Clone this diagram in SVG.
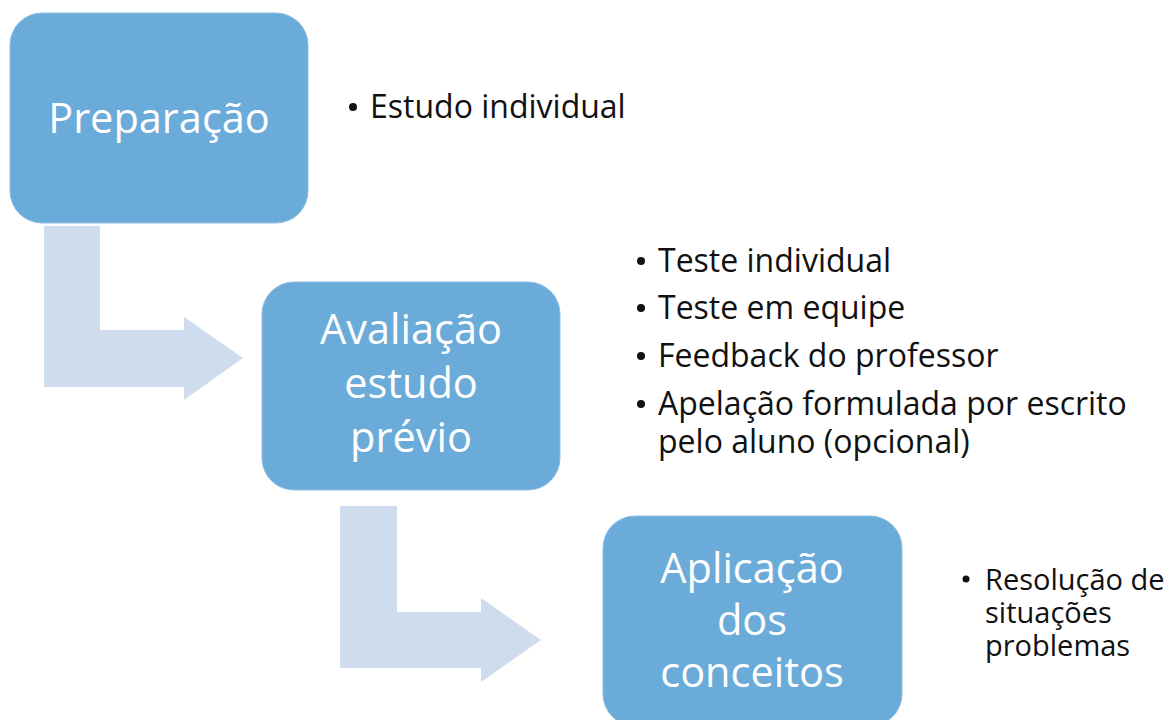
<svg xmlns="http://www.w3.org/2000/svg" width="1171" height="720" viewBox="0 0 1171 720">
<style>
.box{fill:#6aabd9;stroke:#8fc0e3;stroke-width:1}
.arr{fill:#cfdcee}
.bt{font-family:"Open Sans",sans-serif;font-size:41.5px;fill:#ffffff;text-anchor:middle}
.lt{font-family:"Open Sans",sans-serif;font-size:32px;fill:#111111}
.st{font-family:"Open Sans",sans-serif;font-size:29px;fill:#111111}
.dot{fill:#111111}
</style>
<rect width="1171" height="720" fill="#ffffff"/>
<g id="connectors">
<polygon class="arr" points="44,226 100,226 100,330 184,330 184,317 243,358 184,400 184,387 44,387"/>
<polygon class="arr" points="340,506 397,506 397,612 481,612 481,598 541,640 481,682 481,668 340,668"/>
</g>
<g id="node-preparacao">
<rect class="box" x="10" y="13" width="298" height="210" rx="32"/>
<text class="bt" x="159" y="133">Preparação</text>
</g>
<g id="node-avaliacao">
<rect class="box" x="262" y="282" width="298" height="208" rx="32"/>
<text class="bt"><tspan x="411" y="344">Avaliação</tspan><tspan x="411" y="398">estudo</tspan><tspan x="411" y="452">prévio</tspan></text>
</g>
<g id="node-aplicacao">
<rect class="box" x="603" y="516" width="299" height="210" rx="32"/>
<text class="bt"><tspan x="752" y="583">Aplicação</tspan><tspan x="752" y="635">dos</tspan><tspan x="752" y="687">conceitos</tspan></text>
</g>
<g id="list-preparacao">
<circle class="dot" cx="353" cy="107" r="4"/>
<text class="lt" x="370" y="118">Estudo individual</text>
</g>
<g id="list-avaliacao">
<circle class="dot" cx="641" cy="261" r="4"/>
<text class="lt" x="658" y="272">Teste individual</text>
<circle class="dot" cx="641" cy="308" r="4"/>
<text class="lt" x="658" y="319">Teste em equipe</text>
<circle class="dot" cx="641" cy="356" r="4"/>
<text class="lt" x="658" y="367">Feedback do professor</text>
<circle class="dot" cx="641" cy="404" r="4"/>
<text class="lt"><tspan x="658" y="415">Apelação formulada por escrito</tspan><tspan x="658" y="453">pelo aluno (opcional)</tspan></text>
</g>
<g id="list-aplicacao">
<circle class="dot" cx="966" cy="579" r="3.5"/>
<text class="st"><tspan x="985" y="590">Resolução de</tspan><tspan x="985" y="623">situações</tspan><tspan x="985" y="656">problemas</tspan></text>
</g>
</svg>
